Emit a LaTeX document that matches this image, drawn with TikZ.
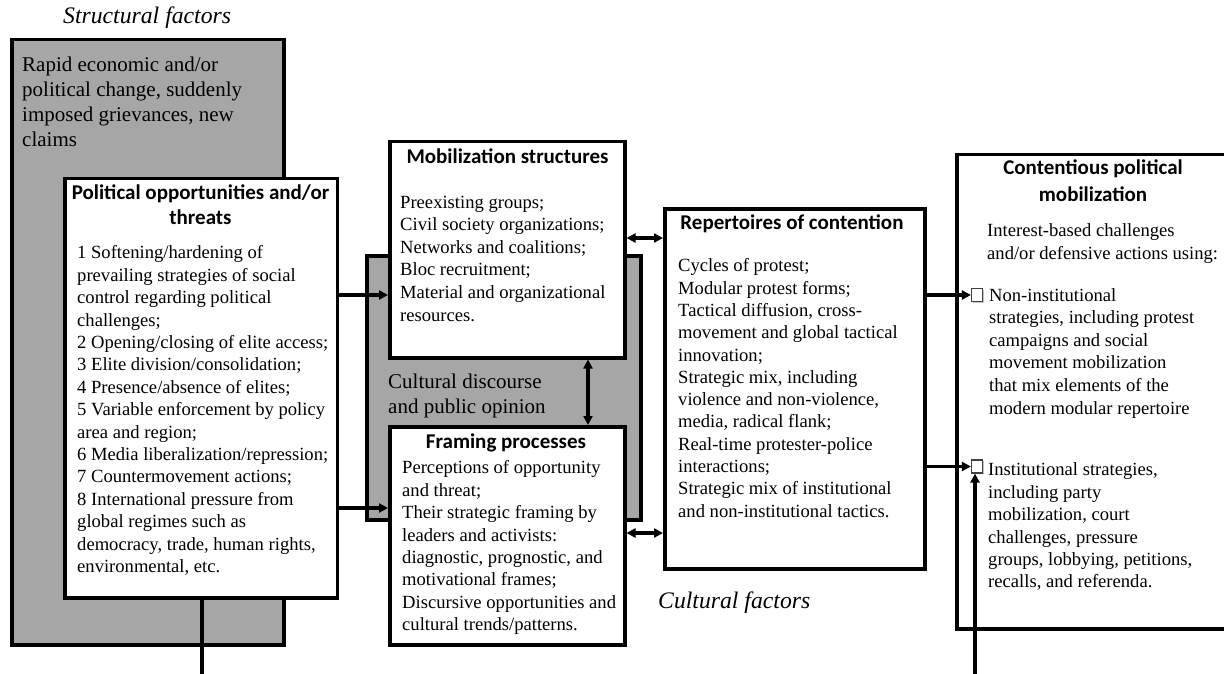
\documentclass[tikz,border=0pt]{standalone}
\usepackage{fontspec}
\setmainfont{Liberation Serif}
\newfontfamily\calibrifont{Carlito}
\usetikzlibrary{arrows.meta,shadows}
\definecolor{boxgray}{RGB}{166,166,166}
\tikzset{
 frame/.style={draw, line width=3.5pt, inner sep=0pt, anchor=north west},
 whitebox/.style={frame, fill=white},
 graybox/.style={frame, fill=boxgray},
 body/.style={font=\fontsize{18.6}{22.4}\selectfont, align=left, inner sep=0pt, anchor=north west},
 big/.style={font=\fontsize{21}{25}\selectfont, align=left, inner sep=0pt, anchor=north west},
 head/.style={font=\calibrifont\bfseries\fontsize{21}{25}\selectfont, align=center, inner sep=0pt, anchor=north},
 ital/.style={font=\itshape\fontsize{23.7}{28}\selectfont, inner sep=0pt, anchor=west},
 conn/.style={line width=3.4pt},
 arr/.style={conn, -{Triangle[length=9pt,width=9pt]}},
 darr/.style={conn, {Triangle[length=9pt,width=9pt]}-{Triangle[length=9pt,width=9pt]}},
 chk/.style={draw=black!75, line width=1.2pt, fill=white, minimum width=11pt, minimum height=13pt, inner sep=0pt,
   drop shadow={shadow xshift=1.2pt, shadow yshift=-1.2pt, fill=black!45}},
}
\begin{document}
\begin{tikzpicture}[x=1pt, y=-1pt]
\useasboundingbox (0,0) rectangle (1224,674);
\clip (0,0) rectangle (1224,674);
\fill[white] (0,0) rectangle (1224,674);

% boxes
\node[graybox, minimum width=272pt, minimum height=605pt] (struct) at (10,38) {};
\node[whitebox, minimum width=272.5pt, minimum height=419pt] (pol) at (63,177) {};
\node[graybox, minimum width=274pt, minimum height=264pt] (cult) at (365,254) {};
\node[whitebox, minimum width=235pt, minimum height=216pt] (mob) at (388,140) {};
\node[whitebox, minimum width=235pt, minimum height=218pt] (frm) at (388,425) {};
\node[whitebox, minimum width=260pt, minimum height=360pt] (rep) at (663,207) {};
\node[whitebox, minimum width=400pt, minimum height=474pt] (cont) at (955,153) {};

% texts
\node[ital] (tstruct) at (63,18) {Structural factors};
\node[ital] (tcultf) at (658,603) {Cultural factors};
\node[big] (tstructb) at (22,54) {\strut Rapid economic and/or\\political change, suddenly\\imposed grievances, new\\claims};

\node[head] (hpol) at (200.5,182) {\strut Political opportunities and/or\\threats};
\node[body] (tpol) at (77,243) {\strut 1 Softening/hardening of\\prevailing strategies of social\\control regarding political\\challenges;\\2 Opening/closing of elite access;\\3 Elite division/consolidation;\\4 Presence/absence of elites;\\5 Variable enforcement by policy\\area and region;\\6 Media liberalization/repression;\\7 Countermovement actions;\\8 International pressure from\\global regimes such as\\democracy, trade, human rights,\\environmental, etc.};

\node[head] (hmob) at (507.5,146) {\strut Mobilization structures};
\node[body, font=\fontsize{18.6}{22.6}\selectfont] (tmob) at (400,192) {\strut Preexisting groups;\\Civil society organizations;\\Networks and coalitions;\\Bloc recruitment;\\Material and organizational\\resources.};

\node[big] (tcult) at (388,371) {\strut Cultural discourse\\and public opinion};

\node[head] (hfrm) at (506,431) {\strut Framing processes};
\node[body] (tfrm) at (402,458) {\strut Perceptions of opportunity\\and threat;\\Their strategic framing by\\leaders and activists:\\diagnostic, prognostic, and\\motivational frames;\\Discursive opportunities and\\cultural trends/patterns.};

\node[head] (hrep) at (792,212) {\strut Repertoires of contention};
\node[body, font=\fontsize{18.6}{22.3}\selectfont] (trep) at (678,256) {\strut Cycles of protest;\\Modular protest forms;\\Tactical diffusion, cross-\\movement and global tactical\\innovation;\\Strategic mix, including\\violence and non-violence,\\media, radical flank;\\Real-time protester-police\\interactions;\\Strategic mix of institutional\\and non-institutional tactics.};

\node[head, font=\calibrifont\bfseries\fontsize{21}{26.5}\selectfont] (hcont) at (1093,156) {\strut Contentious political\\mobilization};
\node[body, font=\fontsize{18.6}{23}\selectfont] (tcont) at (987,220) {\strut Interest-based challenges\\and/or defensive actions using:};
\node[body, font=\fontsize{18.6}{22.6}\selectfont] (tcb1) at (989,285) {\strut Non-institutional\\strategies, including protest\\campaigns and social\\movement mobilization\\that mix elements of the\\modern modular repertoire};
\node[body] (tcb2) at (988,460) {\strut Institutional strategies,\\including party\\mobilization, court\\challenges, pressure\\groups, lobbying, petitions,\\recalls, and referenda.};

% check boxes
\node[chk] (cb1) at (977,295) {};
\node[chk] (cb2) at (977,466.5) {};

% connectors
\coordinate (ym1) at (0,295);
\coordinate (ym2) at (0,508);
\coordinate (ymr) at (0,238);
\coordinate (yfr) at (0,533);
\coordinate (xmf) at (588,0);
\coordinate (lowL) at (202,690);
\coordinate (lowR) at (975,690);

\draw[arr] (pol.east |- ym1) -- (mob.west |- ym1);
\draw[arr] (pol.east |- ym2) -- (frm.west |- ym2);
\draw[darr] (mob.east |- ymr) -- (rep.west |- ymr);
\draw[darr] (frm.east |- yfr) -- (rep.west |- yfr);
\draw[darr] (mob.south -| xmf) -- (frm.north -| xmf);
\draw[arr] (rep.east |- cb1) -- (cb1.west);
\draw[arr] (rep.east |- cb2) -- (cb2.west);
\draw[arr] (pol.south -| lowL) -- (lowL) -- (lowR) -- (cb2.south -| lowR);
\end{tikzpicture}
\end{document}
